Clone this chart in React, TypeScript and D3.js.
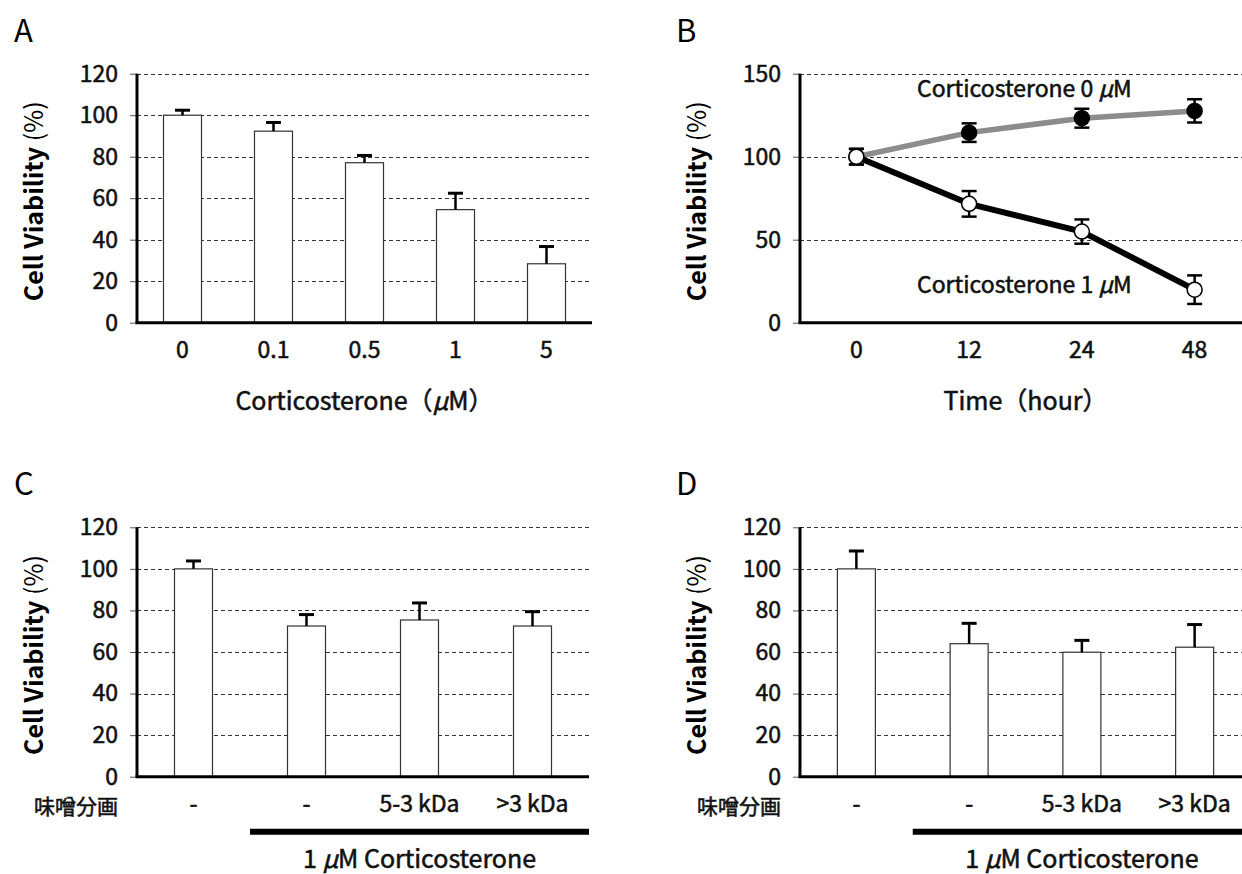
import React, { useEffect, useRef } from 'react'
import * as d3 from 'd3'

// A: viability vs corticosterone dose
const concA = ['0', '0.1', '0.5', '1', '5']
const viabilityA = [100, 92.3, 77.1, 54.5, 28.4]
const errA = [2.4, 4.2, 3.5, 7.9, 8.3]

// B: time course, 0 and 1 uM corticosterone
const hoursB = ['0', '12', '24', '48']
const cort0 = [100, 114.5, 123.2, 127.6]
const cort0Err = [4.7, 5.6, 5.7, 7.0]
const cort1 = [100, 71.6, 54.9, 19.9]
const cort1Err = [4.7, 7.7, 7.3, 8.6]

// C and D: miso fractions with 1 uM corticosterone
const fractions = ['-', '-', '5-3 kDa', '>3 kDa']
const viabilityC = [100, 72.5, 75.4, 72.5]
const errC = [3.8, 5.5, 8.2, 6.9]
const viabilityD = [100, 64.0, 59.9, 62.3]
const errD = [8.6, 9.8, 5.7, 10.9]

const ticksPct = [0, 20, 40, 60, 80, 100, 120]
const ticksB = [0, 50, 100, 150]

const FONT = "'Noto Sans CJK JP', 'Noto Sans', sans-serif"
const BAR_W = 38
const TICK_SIZE = 23

// regular weight with a thin outline, looks like the medium face of the original
function medium (sel, size) {
  return sel
    .attr('font-size', size)
    .attr('font-weight', 400)
    .attr('font-family', FONT)
    .attr('fill', '#111')
    .attr('stroke', '#111')
    .attr('stroke-width', 0.55)
}

// puts the mu sign in italics like the original figure
function withMu (sel, text) {
  text.split(/(μ)/).forEach(part => {
    if (!part) return
    const t = sel.append('tspan').text(part)
    if (part === 'μ') t.attr('font-style', 'italic')
  })
  return sel
}

// draws gridlines, y axis ticks, y title and panel letter, returns y scale
function drawFrame (svg, p) {
  const y = d3.scaleLinear().domain([0, p.yMax]).range([p.yBottom, p.yTop])
  const g = svg.append('g')

  g.append('text')
    .attr('x', p.letterX)
    .attr('y', p.yTop - 32)
    .attr('font-size', 31)
    .attr('font-family', FONT)
    .text(p.letter)

  // dashed gridlines
  g.selectAll('.grid')
    .data(p.ticks.filter(t => t > 0))
    .enter()
    .append('line')
    .attr('x1', p.x0)
    .attr('x2', p.x1)
    .attr('y1', d => Math.round(y(d)) + 0.5)
    .attr('y2', d => Math.round(y(d)) + 0.5)
    .attr('stroke', '#333')
    .attr('stroke-width', 1)
    .attr('stroke-dasharray', '4,3')

  const ax = g.append('g')
    .attr('transform', 'translate(' + p.x0 + ',0)')
    .call(d3.axisLeft(y).tickValues(p.ticks).tickSize(7).tickPadding(12))
  ax.select('.domain').remove()
  ax.selectAll('.tick line').attr('stroke', '#555')
  medium(ax.selectAll('.tick text'), TICK_SIZE)

  const cy = (p.yTop + p.yBottom) / 2 + 3
  const title = g.append('text')
    .attr('transform', 'translate(' + (p.x0 - 101) + ',' + cy + ') rotate(-90)')
    .attr('text-anchor', 'middle')
    .attr('dominant-baseline', 'middle')
    .attr('font-size', 25)
    .attr('font-family', FONT)
  title.append('tspan').attr('font-weight', 700).text('Cell Viability ')
  title.append('tspan').attr('font-weight', 400).text('(%)')

  return y
}

function drawAxisLines (svg, p) {
  svg.append('line')
    .attr('x1', p.x0).attr('x2', p.x0)
    .attr('y1', p.yTop).attr('y2', p.yBottom)
    .attr('stroke', '#000').attr('stroke-width', 3)
  svg.append('line')
    .attr('x1', p.x0 - 1.5).attr('x2', p.x1)
    .attr('y1', p.yBottom).attr('y2', p.yBottom)
    .attr('stroke', '#000').attr('stroke-width', 3)
}

function drawBars (svg, p, labels, values, errs) {
  const y = drawFrame(svg, p)
  const x = d3.scaleBand().domain(d3.range(labels.length)).range([p.x0, p.x1])
  const cx = i => x(i) + x.bandwidth() / 2

  svg.selectAll(null)
    .data(values)
    .enter()
    .append('rect')
    .attr('x', (d, i) => cx(i) - BAR_W / 2)
    .attr('width', BAR_W)
    .attr('y', d => y(d))
    .attr('height', d => p.yBottom - y(d))
    .attr('fill', '#fff')
    .attr('stroke', '#333')
    .attr('stroke-width', 1.2)

  // upper error whiskers only
  values.forEach((v, i) => {
    svg.append('line')
      .attr('x1', cx(i)).attr('x2', cx(i))
      .attr('y1', y(v)).attr('y2', y(v + errs[i]))
      .attr('stroke', '#000').attr('stroke-width', 2.5)
    svg.append('line')
      .attr('x1', cx(i) - 7.5).attr('x2', cx(i) + 7.5)
      .attr('y1', y(v + errs[i])).attr('y2', y(v + errs[i]))
      .attr('stroke', '#000').attr('stroke-width', 3)
  })

  medium(svg.selectAll(null)
    .data(labels)
    .enter()
    .append('text')
    .attr('x', (d, i) => cx(i))
    .attr('y', p.yBottom + 35)
    .attr('text-anchor', 'middle')
    .text(d => d), TICK_SIZE)

  drawAxisLines(svg, p)
  return x
}

function drawTreatmentBar (svg, p, x) {
  // thick bar under the corticosterone-treated groups
  const start = p.x0 + x.step()
  svg.append('line')
    .attr('x1', start).attr('x2', p.x1)
    .attr('y1', p.yBottom + 55).attr('y2', p.yBottom + 55)
    .attr('stroke', '#000').attr('stroke-width', 6)
  const t = medium(svg.append('text')
    .attr('x', (start + p.x1) / 2)
    .attr('y', p.yBottom + 91)
    .attr('text-anchor', 'middle'), 25)
  withMu(t, '1 μM Corticosterone')
  medium(svg.append('text')
    .attr('x', p.x0 - 19)
    .attr('y', p.yBottom + 37)
    .attr('text-anchor', 'end')
    .text('味噌分画'), 21)
}

function drawLines (svg, p) {
  const y = drawFrame(svg, p)
  const x = d3.scalePoint().domain(hoursB).range([p.x0, p.x1]).padding(0.5)

  const line = d3.line()
    .x((d, i) => x(hoursB[i]))
    .y(d => y(d))

  svg.append('path')
    .attr('d', line(cort0))
    .attr('fill', 'none')
    .attr('stroke', '#8c8c8c')
    .attr('stroke-width', 5.5)
  svg.append('path')
    .attr('d', line(cort1))
    .attr('fill', 'none')
    .attr('stroke', '#000')
    .attr('stroke-width', 6)
    .attr('stroke-linejoin', 'round')

  const series = [
    { values: cort0, errs: cort0Err, fill: '#000' },
    { values: cort1, errs: cort1Err, fill: '#fff' }
  ]
  series.forEach(s => {
    s.values.forEach((v, i) => {
      const cx = x(hoursB[i])
      const lo = y(v - s.errs[i])
      const hi = y(v + s.errs[i])
      svg.append('line')
        .attr('x1', cx).attr('x2', cx).attr('y1', lo).attr('y2', hi)
        .attr('stroke', '#000').attr('stroke-width', 2.5)
      ;[lo, hi].forEach(yy => {
        svg.append('line')
          .attr('x1', cx - 7.5).attr('x2', cx + 7.5).attr('y1', yy).attr('y2', yy)
          .attr('stroke', '#000').attr('stroke-width', 2.5)
      })
    })
  })
  series.forEach(s => {
    svg.selectAll(null)
      .data(s.values)
      .enter()
      .append('circle')
      .attr('cx', (d, i) => x(hoursB[i]))
      .attr('cy', d => y(d))
      .attr('r', 7.5)
      .attr('fill', s.fill)
      .attr('stroke', '#000')
      .attr('stroke-width', 1.5)
  })

  medium(svg.selectAll(null)
    .data(hoursB)
    .enter()
    .append('text')
    .attr('x', d => x(d))
    .attr('y', p.yBottom + 35)
    .attr('text-anchor', 'middle')
    .text(d => d), TICK_SIZE)

  const labels = [
    { text: 'Corticosterone 0 μM', y: 97 },
    { text: 'Corticosterone 1 μM', y: 293 }
  ]
  labels.forEach(l => {
    const t = medium(svg.append('text').attr('x', 917).attr('y', l.y), 23)
    withMu(t, l.text)
  })

  drawAxisLines(svg, p)
}

function xTitle (svg, p, text) {
  const t = medium(svg.append('text')
    .attr('x', (p.x0 + p.x1) / 2)
    .attr('y', 410)
    .attr('text-anchor', 'middle'), 25)
  withMu(t, text)
}

export default function App () {
  const ref = useRef(null)

  useEffect(() => {
    const svg = d3.select(ref.current)
    svg.selectAll('*').remove()

    const top = { yTop: 73.7, yBottom: 322.7 }
    const bottom = { yTop: 527.3, yBottom: 776.7 }

    const pA = { ...top, x0: 137, x1: 592, yMax: 120, ticks: ticksPct, letter: 'A', letterX: 14 }
    const pB = { ...top, x0: 800, x1: 1251, yMax: 150, ticks: ticksB, letter: 'B', letterX: 676 }
    const pC = { ...bottom, x0: 137, x1: 589, yMax: 120, ticks: ticksPct, letter: 'C', letterX: 14 }
    const pD = { ...bottom, x0: 800, x1: 1251, yMax: 120, ticks: ticksPct, letter: 'D', letterX: 676 }

    drawBars(svg, pA, concA, viabilityA, errA)
    xTitle(svg, pA, 'Corticosterone（μM）')

    drawLines(svg, pB)
    xTitle(svg, pB, 'Time（hour）')

    const xC = drawBars(svg, pC, fractions, viabilityC, errC)
    drawTreatmentBar(svg, pC, xC)

    const xD = drawBars(svg, pD, fractions, viabilityD, errD)
    drawTreatmentBar(svg, pD, xD)
  }, [])

  return (
    <svg
      ref={ref}
      width={1242}
      height={874}
      style={{ position: 'absolute', left: 0, top: 0, background: '#fff' }}
    />
  )
}
